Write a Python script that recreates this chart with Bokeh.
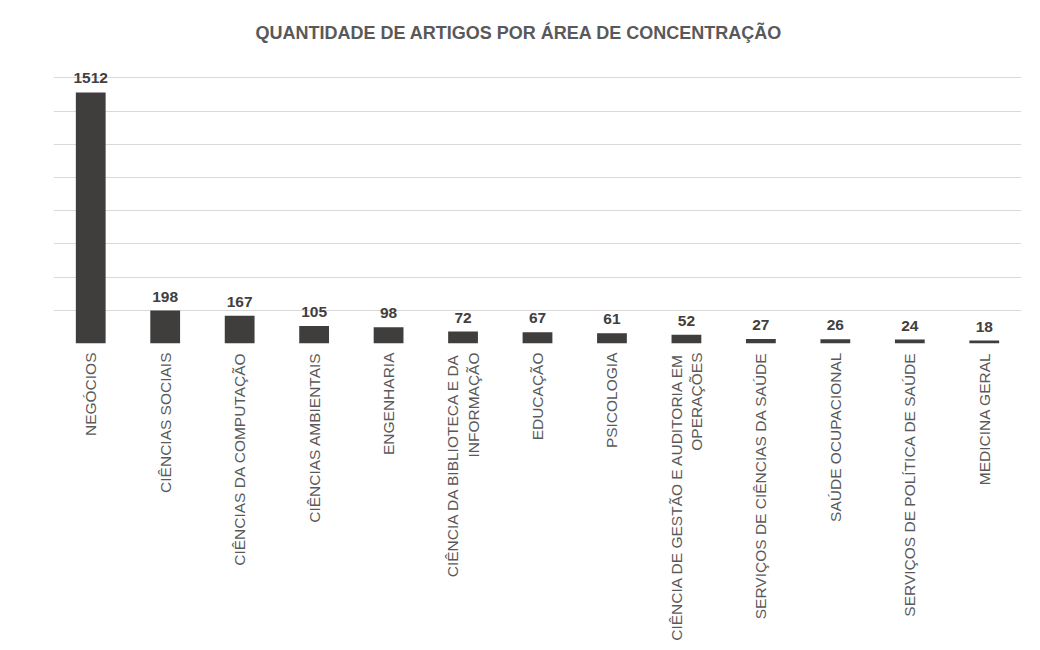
from bokeh.plotting import figure
from bokeh.models import ColumnDataSource, FixedTicker, Range1d, LabelSet
from bokeh.embed import file_html
from bokeh.resources import INLINE
from bokeh.core.properties import value
import math

title_text = "QUANTIDADE  DE ARTIGOS POR ÁREA DE CONCENTRAÇÃO"
categories = [
    "NEGÓCIOS",
    "CIÊNCIAS SOCIAIS",
    "CIÊNCIAS DA COMPUTAÇÃO",
    "CIÊNCIAS AMBIENTAIS",
    "ENGENHARIA",
    "CIÊNCIA DA BIBLIOTECA E DA\nINFORMAÇÃO",
    "EDUCAÇÃO",
    "PSICOLOGIA",
    "CIÊNCIA DE GESTÃO E AUDITORIA EM\nOPERAÇÕES",
    "SERVIÇOS DE CIÊNCIAS DA SAÚDE",
    "SAÚDE OCUPACIONAL",
    "SERVIÇOS DE POLÍTICA DE SAÚDE",
    "MEDICINA GERAL",
]
counts = [1512, 198, 167, 105, 98, 72, 67, 61, 52, 27, 26, 24, 18]
grid_ticks = [0, 200, 400, 600, 800, 1000, 1200, 1400, 1600]

src = ColumnDataSource(dict(cat=categories, n=counts, lbl=[str(v) for v in counts]))

p = figure(
    x_range=categories,
    y_range=Range1d(0, 1680),
    width=1024,
    height=643,
    output_backend="svg",
    toolbar_location=None,
    title=title_text,
    min_border_left=53,
    min_border_right=3,
    min_border_top=64,
    min_border_bottom=0,
)
p.title.align = "left"
p.title.vertical_align = "top"
p.title.text_font = "Liberation Sans"
p.title.text_font_size = "18px"
p.title.text_font_style = "bold"
p.title.text_color = "#595959"
p.title.offset = 202
p.title.standoff = 40

p.vbar(x="cat", top="n", width=0.4, source=src, fill_color="#403d3d", line_color=None)

labels = LabelSet(x="cat", y="n", text="lbl", source=src, text_align="center",
                  text_baseline="bottom", y_offset=9, text_font=value("Liberation Sans"),
                  text_font_size="15.5px", text_font_style="bold", text_color="#404040")
p.add_layout(labels)

p.yaxis.visible = False
p.yaxis.ticker = FixedTicker(ticks=grid_ticks)
p.ygrid.ticker = FixedTicker(ticks=grid_ticks)
p.ygrid.grid_line_color = "#d9d9d9"
p.ygrid.grid_line_width = 1
p.xgrid.grid_line_color = None
p.outline_line_color = None

p.xaxis.axis_line_color = None
p.xaxis.major_tick_line_color = None
p.xaxis.minor_tick_line_color = None
p.xaxis.major_tick_out = 0
p.xaxis.major_tick_in = 0
p.xaxis.major_label_orientation = math.pi / 2
p.xaxis.major_label_text_font = "Liberation Sans"
p.xaxis.major_label_text_font_size = "15.5px"
p.xaxis.major_label_text_color = "#595959"
p.xaxis.major_label_standoff = 9
p.x_range.range_padding = 0

open("out.html", "w").write(file_html(p, INLINE))
